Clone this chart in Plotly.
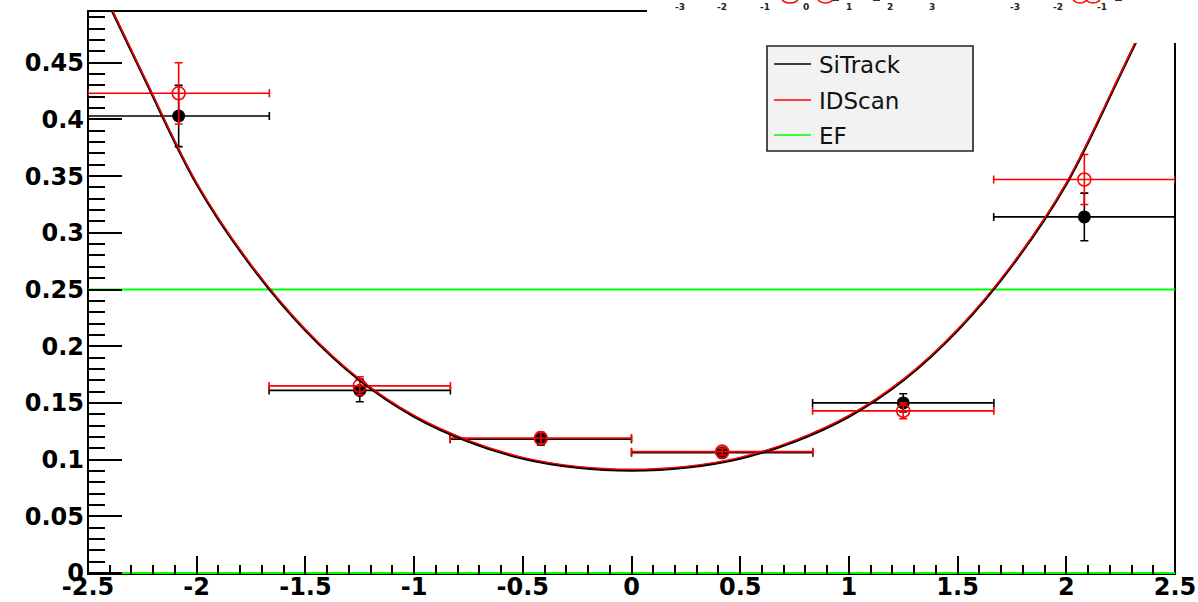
import plotly.graph_objects as go

# ---- data -------------------------------------------------------------
BIN_CENTERS = [-2.083, -1.25, -0.417, 0.417, 1.25, 2.083]
BIN_HALF_WIDTH = [0.417, 0.417, 0.417, 0.417, 0.417, 0.417]

SITRACK_Y = [0.403, 0.161, 0.118, 0.106, 0.150, 0.314]
SITRACK_ERR = [0.027, 0.010, 0.005, 0.003, 0.008, 0.021]

IDSCAN_Y = [0.423, 0.165, 0.119, 0.107, 0.143, 0.347]
IDSCAN_ERR = [0.027, 0.008, 0.005, 0.003, 0.007, 0.022]

# fitted resolution curves, sampled every 0.25 in eta
FIT_X = [-2.5, -2.25, -2.0, -1.75, -1.5, -1.25, -1.0, -0.75, -0.5, -0.25, 0.0,
         0.25, 0.5, 0.75, 1.0, 1.25, 1.5, 1.75, 2.0, 2.25, 2.5]
SITRACK_FIT = [0.540, 0.440, 0.343, 0.271, 0.214, 0.170, 0.138, 0.116, 0.101, 0.093, 0.0905,
               0.093, 0.101, 0.116, 0.138, 0.170, 0.214, 0.271, 0.343, 0.440, 0.540]
IDSCAN_FIT = [0.541, 0.441, 0.344, 0.272, 0.215, 0.171, 0.139, 0.117, 0.102, 0.094, 0.0915,
              0.094, 0.102, 0.117, 0.139, 0.171, 0.215, 0.272, 0.344, 0.441, 0.541]

EF_X = [-2.5, 2.5]
EF_Y = [0.25, 0.25]
EF_BASE_Y = [0.0, 0.0]

X_TICKS = [-2.5, -2.0, -1.5, -1.0, -0.5, 0.0, 0.5, 1.0, 1.5, 2.0, 2.5]
X_TICK_TEXT = ["-2.5", "-2", "-1.5", "-1", "-0.5", "0", "0.5", "1", "1.5", "2", "2.5"]
Y_TICKS = [0.0, 0.05, 0.1, 0.15, 0.2, 0.25, 0.3, 0.35, 0.4, 0.45]
Y_TICK_TEXT = ["0", "0.05", "0.1", "0.15", "0.2", "0.25", "0.3", "0.35", "0.4", "0.45"]

LEGEND_NAMES = ["SiTrack", "IDScan", "EF"]
NEIGHBOUR_TICKS_A = ["-3", "-2", "-1", "0", "1", "2", "3"]
NEIGHBOUR_TICKS_B = ["-3", "-2", "-1"]

# ---- layout geometry (pixels) -----------------------------------------
W, H = 1198, 602
L, R, T, B = 88, 23, 11, 28
PW, PH = W - L - R, H - T - B

BLACK = "#000000"
RED = "#ff0000"
GREEN = "#00ff00"


def px_x(p):
    return (p - L) / PW


def px_y(p):
    return (H - B - p) / PH


fig = go.Figure()

# EF lines
for ys in (EF_Y, EF_BASE_Y):
    fig.add_trace(go.Scatter(x=EF_X, y=ys, mode="lines",
                             line=dict(color=GREEN, width=2),
                             showlegend=False, hoverinfo="skip"))

# SiTrack points
fig.add_trace(go.Scatter(
    x=BIN_CENTERS, y=SITRACK_Y, mode="markers", showlegend=False,
    marker=dict(symbol="circle", size=13, color=BLACK),
    error_x=dict(type="data", array=BIN_HALF_WIDTH, color=BLACK, thickness=1.6, width=4),
    error_y=dict(type="data", array=SITRACK_ERR, color=BLACK, thickness=1.6, width=4),
))

# IDScan points
fig.add_trace(go.Scatter(
    x=BIN_CENTERS, y=IDSCAN_Y, mode="markers", showlegend=False,
    marker=dict(symbol="circle-open", size=13, color=RED, line=dict(width=1.6, color=RED)),
    error_x=dict(type="data", array=BIN_HALF_WIDTH, color=RED, thickness=1.6, width=4),
    error_y=dict(type="data", array=IDSCAN_ERR, color=RED, thickness=1.6, width=4),
))

# fitted curves
fig.add_trace(go.Scatter(x=FIT_X, y=SITRACK_FIT, mode="lines", showlegend=False,
                         line=dict(color=BLACK, width=2.6, shape="spline"), hoverinfo="skip"))
fig.add_trace(go.Scatter(x=FIT_X, y=IDSCAN_FIT, mode="lines", showlegend=False,
                         line=dict(color=RED, width=1.4, shape="spline"), hoverinfo="skip"))

tick_font = dict(family="DejaVu Sans", size=24, color=BLACK, weight="bold")

fig.update_xaxes(
    range=[-2.5, 2.5], tickvals=X_TICKS, ticktext=X_TICK_TEXT,
    ticks="inside", ticklen=18, tickwidth=2, tickcolor=BLACK,
    minor=dict(dtick=0.1, tick0=0, ticks="inside", ticklen=9, tickwidth=2, tickcolor=BLACK),
    showgrid=False, zeroline=False, showline=False, tickfont=tick_font,
    automargin=False, ticklabelstandoff=-4,
)
fig.update_yaxes(
    range=[-0.0009, 0.4956], tickvals=Y_TICKS, ticktext=Y_TICK_TEXT,
    ticks="inside", ticklen=34, tickwidth=2, tickcolor=BLACK,
    minor=dict(dtick=0.01, tick0=0, ticks="inside", ticklen=17, tickwidth=2, tickcolor=BLACK),
    showgrid=False, zeroline=False, showline=False, tickfont=tick_font,
    automargin=False, ticklabelstandoff=3,
)

shapes = [
    # frame
    dict(type="rect", xref="paper", yref="paper", x0=0, x1=1, y0=0, y1=1,
         line=dict(color=BLACK, width=2), layer="below"),
    # neighbouring pad covering the upper right corner
    dict(type="rect", xref="paper", yref="paper", x0=px_x(647), x1=px_x(W + 5),
         y0=px_y(43), y1=px_y(-5), fillcolor="white", line=dict(width=0), layer="above"),
    # legend box
    dict(type="rect", xref="paper", yref="paper", x0=px_x(767), x1=px_x(973),
         y0=px_y(151), y1=px_y(46), fillcolor="#f2f2f2",
         line=dict(color="#222222", width=1.6), layer="above"),
]

legend_rows = [64, 100, 135]
legend_colors = [BLACK, RED, GREEN]
annotations = []
for name, row, col in zip(LEGEND_NAMES, legend_rows, legend_colors):
    shapes.append(dict(type="line", xref="paper", yref="paper",
                       x0=px_x(774), x1=px_x(811), y0=px_y(row), y1=px_y(row),
                       line=dict(color=col, width=1.5), layer="above"))
    annotations.append(dict(text=name, xref="paper", yref="paper", x=px_x(817), y=px_y(row + 1),
                            xanchor="left", yanchor="middle", showarrow=False,
                            font=dict(family="DejaVu Sans", size=23, color="#111111")))

# fragments of the neighbouring pads' axes and markers
small_font = dict(family="DejaVu Sans", size=9, color="#222222", weight="bold")
for txt, xp in zip(NEIGHBOUR_TICKS_A + NEIGHBOUR_TICKS_B,
                   [680, 722, 765, 806, 849, 890, 932, 1015, 1058, 1102]):
    annotations.append(dict(text=txt, xref="paper", yref="paper", x=px_x(xp), y=px_y(7),
                            xanchor="center", yanchor="middle", showarrow=False, font=small_font))
for x0, x1 in [(782, 798), (818, 833), (1073, 1087), (1086, 1100)]:
    shapes.append(dict(type="circle", xref="paper", yref="paper",
                       x0=px_x(x0), x1=px_x(x1), y0=px_y(3), y1=px_y(-6),
                       line=dict(color=RED, width=1.6), layer="above"))
for x0, x1 in [(833, 839), (873, 880), (1115, 1122)]:
    shapes.append(dict(type="line", xref="paper", yref="paper",
                       x0=px_x(x0), x1=px_x(x1), y0=px_y(0.5), y1=px_y(0.5),
                       line=dict(color="#333333", width=1), layer="above"))

fig.update_layout(
    width=W, height=H,
    margin=dict(l=L, r=R, t=T, b=B, pad=0),
    paper_bgcolor="white", plot_bgcolor="white",
    shapes=shapes, annotations=annotations, showlegend=False,
)

fig.write_html("out.html")
